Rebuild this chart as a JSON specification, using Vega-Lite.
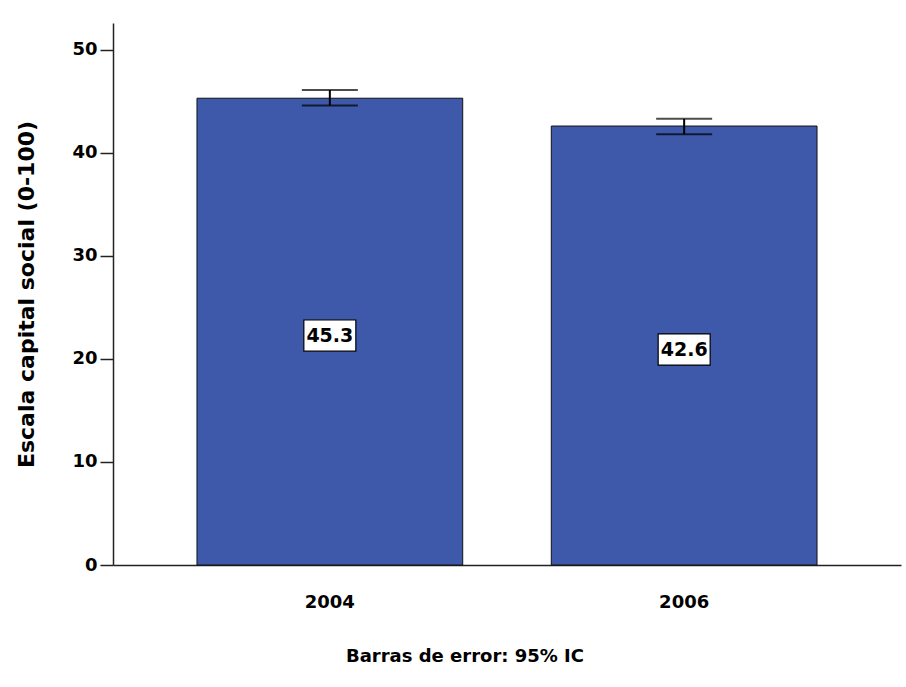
{
  "$schema": "https://vega.github.io/schema/vega-lite/v6.json",
  "width": 788,
  "height": 542,
  "autosize": {"type": "none"},
  "padding": {"left": 113, "top": 23, "right": 5, "bottom": 122},
  "background": "white",
  "config": {
    "view": {"stroke": null},
    "font": "DejaVu Sans",
    "axis": {"labelFont": "DejaVu Sans", "titleFont": "DejaVu Sans", "labelColor": "black", "titleColor": "black", "domainColor": "#222222", "tickColor": "#222222"}
  },
  "title": {
    "text": "Barras de error: 95% IC",
    "orient": "bottom",
    "anchor": "middle",
    "frame": "group",
    "fontSize": 18,
    "fontWeight": "bold",
    "font": "DejaVu Sans",
    "color": "black",
    "offset": 37,
    "dx": -42
  },
  "data": {
    "values": [
      {"year": "2004", "mean": 45.3, "low": 44.6, "high": 46.1, "label": "45.3"},
      {"year": "2006", "mean": 42.6, "low": 41.8, "high": 43.3, "label": "42.6"}
    ]
  },
  "transform": [{"calculate": "datum.mean / 2", "as": "mid"}],
  "encoding": {
    "x": {
      "field": "year",
      "type": "nominal",
      "sort": null,
      "scale": {"paddingInner": 0.25, "paddingOuter": 0.237},
      "axis": {
        "title": null,
        "labelAngle": 0,
        "labelFontSize": 18,
        "labelFontWeight": "bold",
        "ticks": false,
        "labelPadding": 28,
        "domainWidth": 1.5
      }
    }
  },
  "layer": [
    {
      "mark": {"type": "bar", "color": "#3E58AA", "stroke": "#111111", "strokeWidth": 1},
      "encoding": {
        "y": {
          "field": "mean",
          "type": "quantitative",
          "scale": {"domain": [0, 52.6], "nice": false},
          "axis": {
            "title": "Escala capital social (0-100)",
            "titleFontSize": 22,
            "titleFontWeight": "bold",
            "titlePadding": 33,
            "labelFontSize": 18,
            "labelFontWeight": "bold",
            "values": [0, 10, 20, 30, 40, 50],
            "tickSize": 13,
            "labelPadding": 3,
            "grid": false,
            "domainWidth": 1.5,
            "tickWidth": 1.5
          }
        }
      }
    },
    {
      "mark": {"type": "rule", "color": "black", "strokeWidth": 2},
      "encoding": {
        "y": {"field": "low", "type": "quantitative"},
        "y2": {"field": "high"}
      }
    },
    {
      "mark": {"type": "tick", "orient": "horizontal", "color": "black", "size": 56, "thickness": 2},
      "encoding": {"y": {"field": "low", "type": "quantitative"}}
    },
    {
      "mark": {"type": "tick", "orient": "horizontal", "color": "black", "size": 56, "thickness": 2},
      "encoding": {"y": {"field": "high", "type": "quantitative"}}
    },
    {
      "mark": {"type": "point", "shape": "M-1,-0.6L1,-0.6L1,0.6L-1,0.6Z", "size": 2704, "filled": true, "fill": "white", "stroke": "black", "strokeWidth": 1.2, "opacity": 1, "yOffset": 4},
      "encoding": {"y": {"field": "mid", "type": "quantitative"}}
    },
    {
      "mark": {"type": "text", "font": "DejaVu Sans", "fontSize": 19, "fontWeight": "bold", "color": "black", "baseline": "middle", "align": "center", "yOffset": 4},
      "encoding": {
        "y": {"field": "mid", "type": "quantitative"},
        "text": {"field": "label"}
      }
    }
  ]
}
